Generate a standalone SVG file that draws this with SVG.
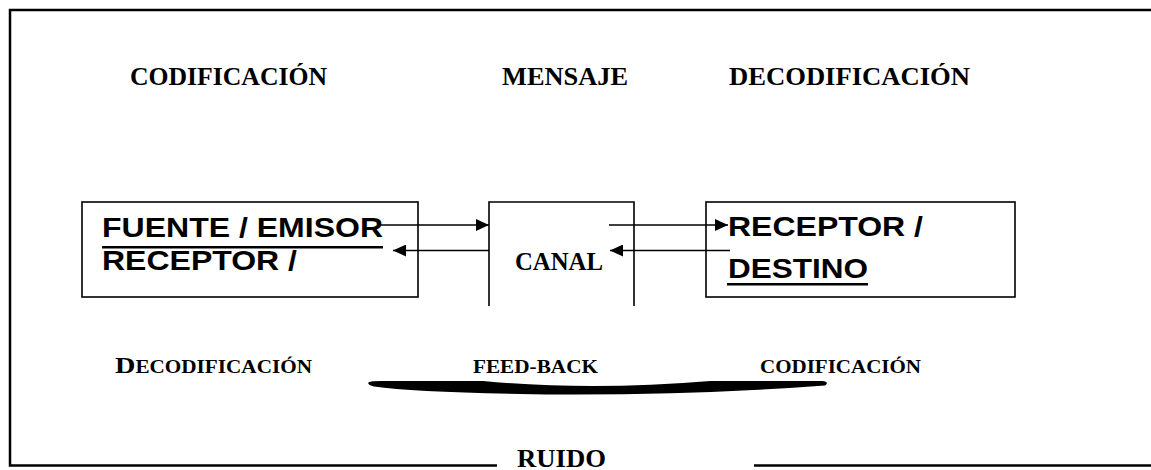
<svg xmlns="http://www.w3.org/2000/svg" width="1151" height="470" viewBox="0 0 1151 470">
<style>
.serif{font-family:"Liberation Serif","Times New Roman",serif;font-weight:bold;fill:#000}
.sans{font-family:"Liberation Sans",Arial,sans-serif;font-weight:bold;fill:#000}
.box{fill:none;stroke:#000;stroke-width:1.6}
.frame{fill:none;stroke:#000;stroke-width:2.5}
.conn{stroke:#000;stroke-width:1.5;fill:none}
</style>
<defs>
<marker id="ah" markerUnits="userSpaceOnUse" markerWidth="14" markerHeight="12" refX="13" refY="6" orient="auto">
<path d="M0,0 L13,6 L0,12 Z" fill="#000"/>
</marker>
</defs>
<rect width="1151" height="470" fill="#fff"/>
<g id="frame">
<path class="frame" d="M1151,10 H10 V465.5 H497"/>
<path class="frame" d="M754,465.5 H1151"/>
<text class="serif" x="517" y="467" font-size="25" textLength="89" lengthAdjust="spacingAndGlyphs">RUIDO</text>
</g>
<g id="labels-top">
<text class="serif" x="130" y="85" font-size="26" textLength="197" lengthAdjust="spacingAndGlyphs">CODIFICACIÓN</text>
<text class="serif" x="502" y="85" font-size="26" textLength="126" lengthAdjust="spacingAndGlyphs">MENSAJE</text>
<text class="serif" x="729" y="85" font-size="26" textLength="241" lengthAdjust="spacingAndGlyphs">DECODIFICACIÓN</text>
</g>
<g id="fuente">
<rect class="box" x="82" y="202" width="336" height="95"/>
<text class="sans" x="102" y="237" font-size="28.5" textLength="281" lengthAdjust="spacingAndGlyphs">FUENTE / EMISOR</text>
<line x1="102" y1="247.3" x2="383" y2="247.3" stroke="#000" stroke-width="2.5"/>
<text class="sans" x="102" y="270" font-size="28.5" textLength="195" lengthAdjust="spacingAndGlyphs">RECEPTOR /</text>
</g>
<g id="canal">
<path class="box" d="M489,306 V202 H634 V306"/>
<text class="serif" x="515" y="270" font-size="26" textLength="88" lengthAdjust="spacingAndGlyphs">CANAL</text>
</g>
<g id="receptor">
<rect class="box" x="706" y="202" width="309" height="95"/>
<text class="sans" x="728" y="236" font-size="28.5" textLength="195" lengthAdjust="spacingAndGlyphs">RECEPTOR /</text>
<text class="sans" x="728" y="277.5" font-size="28.5" textLength="140" lengthAdjust="spacingAndGlyphs">DESTINO</text>
<line x1="727" y1="284.3" x2="868" y2="284.3" stroke="#000" stroke-width="2.5"/>
</g>
<g id="connectors">
<line class="conn" x1="380" y1="225" x2="489" y2="225" marker-end="url(#ah)"/>
<line class="conn" x1="489" y1="250.5" x2="393" y2="250.5" marker-end="url(#ah)"/>
<line class="conn" x1="609" y1="225" x2="728" y2="225" marker-end="url(#ah)"/>
<line class="conn" x1="730" y1="250.5" x2="610" y2="250.5" marker-end="url(#ah)"/>
</g>
<g id="feedback">
<text class="serif" x="115" y="372.7" font-size="18" textLength="197" lengthAdjust="spacingAndGlyphs"><tspan font-size="24">D</tspan>ECODIFICACIÓN</text>
<text class="serif" x="473" y="372.7" font-size="18" textLength="125" lengthAdjust="spacingAndGlyphs">FEED-BACK</text>
<text class="serif" x="760" y="372.7" font-size="18" textLength="161" lengthAdjust="spacingAndGlyphs">CODIFICACIÓN</text>
<path d="M369,382 Q371,380.5 390,381 L483,381 Q590,391 710,381 L822,381 Q830,382 825,385.5 Q700,395 560,394.5 Q420,393 374,386.5 Q366,384.5 369,382 Z" fill="#000"/>
</g>
</svg>
